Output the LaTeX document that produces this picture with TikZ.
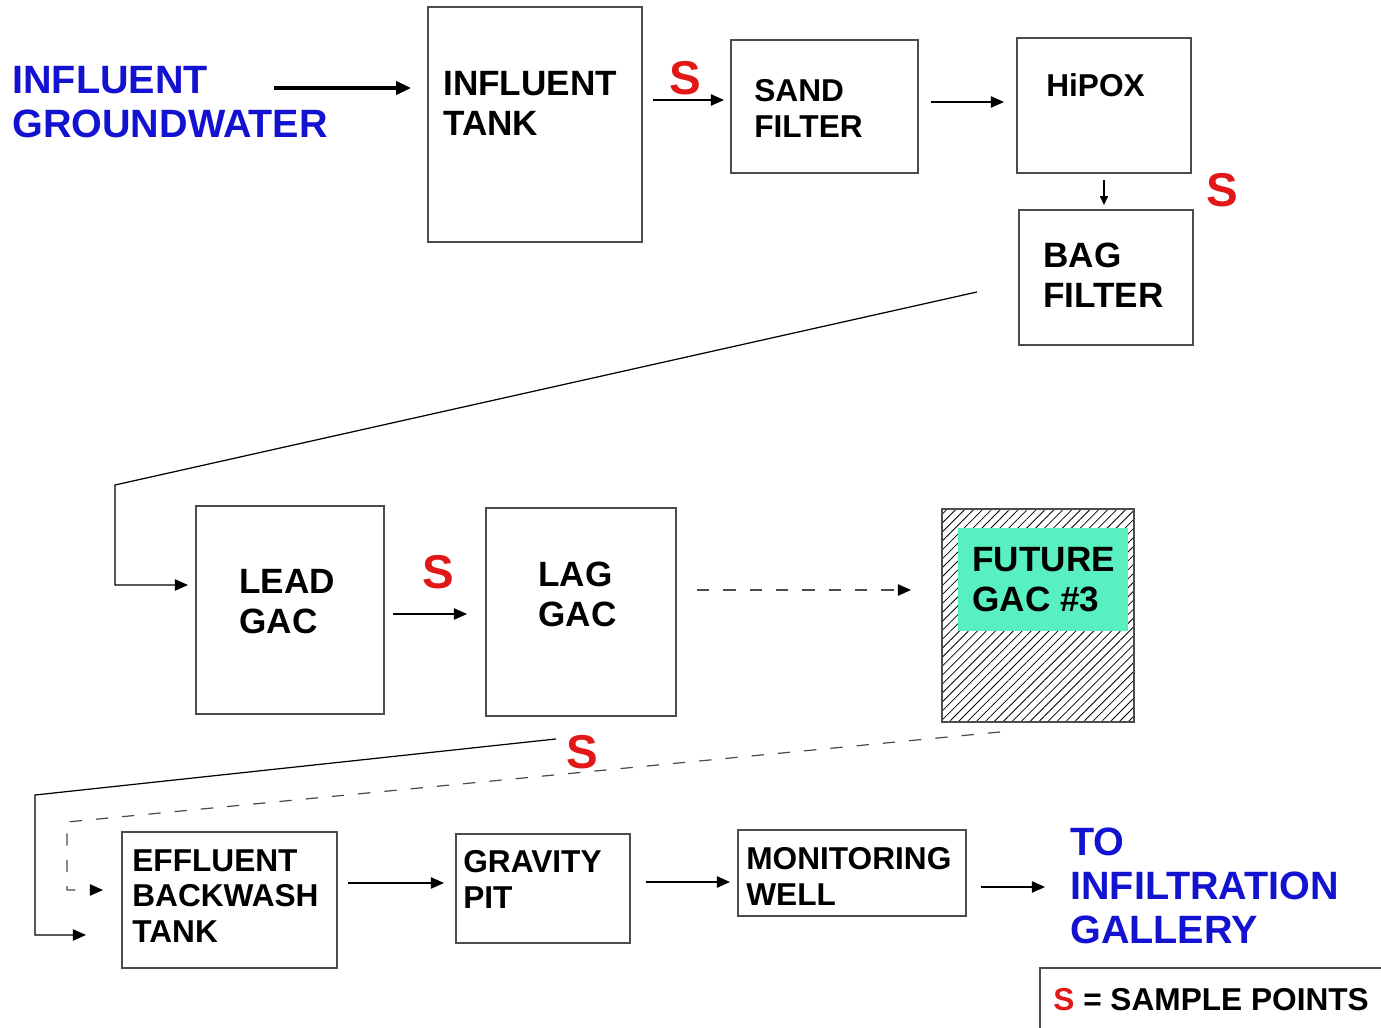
\documentclass[tikz,border=0pt]{standalone}
\usepackage{fontspec}
\setmainfont{Liberation Sans}
\usepackage{xcolor}
\usetikzlibrary{arrows.meta, patterns.meta, calc}
\definecolor{flowblue}{RGB}{18,18,208}
\definecolor{samplered}{RGB}{226,24,24}
\definecolor{futureteal}{RGB}{88,240,192}
\tikzset{
    unitbox/.style={rectangle, draw=black!70, line width=0.7pt, anchor=north west, inner sep=0pt, outer sep=0pt},
    boxtext/.style={anchor=north west, inner sep=0pt, align=left, font=\fontsize{20}{22.7}\selectfont\bfseries},
    smalltext/.style={boxtext, font=\fontsize{18}{20.4}\selectfont\bfseries},
    endtext/.style={boxtext, text=flowblue, font=\fontsize{22.5}{24.9}\selectfont\bfseries},
    sample/.style={inner sep=0pt, text=samplered, font=\fontsize{27}{30}\selectfont\bfseries},
    flow/.style={line width=0.7pt, -{Triangle[length=7.5pt, width=6.5pt]}},
    mainflow/.style={line width=2pt, -{Triangle[length=8.5pt, width=7.5pt]}},
    tipflow/.style={line width=0.7pt, -{Triangle[length=5pt, width=4.5pt]}},
    dashflow/.style={line width=0.7pt, draw=black!70, dash pattern=on 7pt off 8pt, -{Triangle[length=7.5pt, width=6.5pt, color=black]}}
}

\begin{document}
\begin{tikzpicture}[x=0.02cm, y=-0.02cm]
    \useasboundingbox (0,0) rectangle (1381,1027);

    % process units
    \node[unitbox, minimum width=4.28cm, minimum height=4.70cm] (tank) at (428,7) {};
    \node[unitbox, minimum width=3.74cm, minimum height=2.66cm] (sand) at (731,40) {};
    \node[unitbox, minimum width=3.48cm, minimum height=2.70cm] (hipox) at (1017,38) {};
    \node[unitbox, minimum width=3.48cm, minimum height=2.70cm] (bag) at (1019,210) {};
    \node[unitbox, minimum width=3.76cm, minimum height=4.16cm] (lead) at (196,506) {};
    \node[unitbox, minimum width=3.80cm, minimum height=4.16cm] (lag) at (486,508) {};
    \node[unitbox, minimum width=3.84cm, minimum height=4.26cm, pattern={Lines[angle=45, distance=3.6pt, line width=0.45pt]}] (future) at (942,509) {};
    \node[unitbox, draw=none, fill=futureteal, minimum width=3.40cm, minimum height=2.06cm] (futurefill) at (958,528) {};
    \node[unitbox, minimum width=4.30cm, minimum height=2.72cm] (effluent) at (122,832) {};
    \node[unitbox, minimum width=3.48cm, minimum height=2.18cm] (gravity) at (456,834) {};
    \node[unitbox, minimum width=4.56cm, minimum height=1.72cm] (monitoring) at (738,830) {};
    \node[unitbox, minimum width=7.00cm, minimum height=1.50cm] (legend) at (1040,968) {};

    % labels
    \node[endtext] (groundwater) at (12,66) {INFLUENT\\GROUNDWATER};
    \node[boxtext] (tanktxt) at (443,71) {INFLUENT\\TANK};
    \node[smalltext] (sandtxt) at (754,79) {SAND\\FILTER};
    \node[smalltext] (hipoxtxt) at (1046,73) {HiPOX};
    \node[boxtext] (bagtxt) at (1043,243) {BAG\\FILTER};
    \node[boxtext] (leadtxt) at (239,569) {LEAD\\GAC};
    \node[boxtext] (lagtxt) at (538,562) {LAG\\GAC};
    \node[boxtext] (futuretxt) at (972,547) {FUTURE\\GAC \#3};
    \node[smalltext] (effluenttxt) at (132,849) {EFFLUENT\\BACKWASH\\TANK};
    \node[smalltext] (gravitytxt) at (463,850) {GRAVITY\\PIT};
    \node[smalltext] (monitoringtxt) at (746,847) {MONITORING\\WELL};
    \node[endtext] (gallery) at (1070,828) {TO\\INFILTRATION\\GALLERY};
    \node[smalltext] (legendtxt) at (1053,988) {\textcolor{samplered}{S} = SAMPLE POINTS};

    % sample points
    \node[sample] (s1) at (685,78) {S};
    \node[sample] (s2) at (1222,190) {S};
    \node[sample] (s3) at (438,572) {S};
    \node[sample] (s4) at (582,752) {S};

    % flow
    \coordinate (gwout) at (274,88);
    \coordinate (bagbend) at (115,485);
    \coordinate (futurebend) at (67,822);
    \coordinate (lagbend) at (35,795);

    \draw[mainflow, shorten >=0.34cm] (gwout) -- (gwout -| tank.west);
    \draw[flow, shorten <=0.22cm, shorten >=0.14cm] ($(tank.east |- sand.west)+(0,0.13cm)$) -- ($(sand.west)+(0,0.13cm)$);
    \draw[flow, shorten <=0.26cm, shorten >=0.26cm] ($(sand.east)+(0,0.09cm)$) -- ($(sand.east -| hipox.west)+(0,0.09cm)$);
    \draw[tipflow, shorten <=0.14cm, shorten >=0.10cm] (hipox.south) -- (hipox.south |- bag.north);
    \draw[flow, shorten >=0.16cm] ($(bag.west)+(-0.84cm,-0.29cm)$) -- (bagbend) |- ($(lead.west)+(0,0.5cm)$);
    \draw[flow, shorten <=0.18cm, shorten >=0.38cm] ($(lead.east)+(0,-0.08cm)$) -- ($(lead.east -| lag.west)+(0,-0.08cm)$);
    \draw[dashflow, shorten <=0.42cm, shorten >=0.62cm] ($(future.west -| lag.east)+(0,0.51cm)$) -- ($(future.west)+(0,0.51cm)$);
    \draw[dashflow, shorten >=0.38cm] ($(future.south)+(-0.76cm,-0.2cm)$) -- (futurebend) |- ($(effluent.west)+(0,0.2cm)$);
    \draw[flow, shorten >=0.72cm] ($(lag.south)+(-0.5cm,-0.46cm)$) -- (lagbend) |- ($(effluent.west)+(0,-0.7cm)$);
    \draw[flow, shorten <=0.22cm, shorten >=0.24cm] ($(effluent.east)+(0,0.34cm)$) -- ($(effluent.east -| gravity.west)+(0,0.34cm)$);
    \draw[flow, shorten <=0.32cm, shorten >=0.16cm] ($(gravity.east)+(0,0.13cm)$) -- ($(gravity.east -| monitoring.west)+(0,0.13cm)$);
    \draw[flow, shorten <=0.30cm, shorten >=0.50cm] ($(monitoring.east)+(0,-0.28cm)$) -- ($(monitoring.east -| gallery.west)+(0,-0.28cm)$);
\end{tikzpicture}
\end{document}
